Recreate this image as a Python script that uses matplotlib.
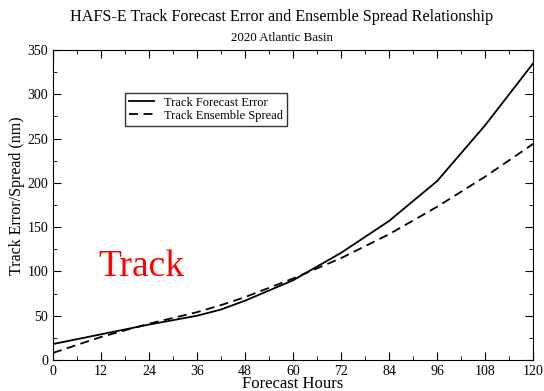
import matplotlib.pyplot as plt
from matplotlib.ticker import MultipleLocator

plt.rcParams['font.family'] = ['Liberation Serif', 'DejaVu Serif']

hours = [0, 12, 24, 36, 42, 48, 60, 72, 84, 96, 108, 120]
track_error = [18, 29, 40, 50, 57, 67, 90, 121, 157, 202, 265, 335]
ens_spread = [8, 26, 41, 54, 62, 71, 92, 115, 142, 173, 207, 244]

fig = plt.figure(figsize=(5.44, 3.91), dpi=100)
ax = fig.add_axes([0.0974, 0.0793, 0.8826, 0.7927])

ax.plot(hours, track_error, color='black', lw=1.3, label='Track Forecast Error')
ax.plot(hours, ens_spread, color='black', lw=1.3, ls=(0, (5, 3)), label='Track Ensemble Spread')

ax.set_xlim(0, 120)
ax.set_ylim(0, 350)
ax.xaxis.set_major_locator(MultipleLocator(12))
ax.xaxis.set_minor_locator(MultipleLocator(6))
ax.yaxis.set_major_locator(MultipleLocator(50))
ax.yaxis.set_minor_locator(MultipleLocator(25))
ax.tick_params(which='both', direction='in', top=True, right=True, labelsize=10)
ax.tick_params(which='major', length=6)
ax.tick_params(which='minor', length=3)

ax.set_xlabel('Forecast Hours', fontsize=12, labelpad=-1)
ax.set_ylabel('Track Error/Spread (nm)', fontsize=11.5)
ax.yaxis.set_label_coords(-0.058, 0.53)

fig.text(0.517, 0.957, 'HAFS-E Track Forecast Error and Ensemble Spread Relationship',
         ha='center', va='center', fontsize=11.6)
fig.text(0.518, 0.902, '2020 Atlantic Basin', ha='center', va='center', fontsize=9.3)

ax.legend(loc='upper left', bbox_to_anchor=(0.15, 0.862), fontsize=9, frameon=True,
          fancybox=False, edgecolor='black', handlelength=2.0, borderpad=0.3,
          labelspacing=0.1, borderaxespad=0)

ax.text(0.095, 0.30, 'Track', transform=ax.transAxes, color='red', fontsize=27,
        ha='left', va='center')

fig.savefig('out.png', dpi=100)
